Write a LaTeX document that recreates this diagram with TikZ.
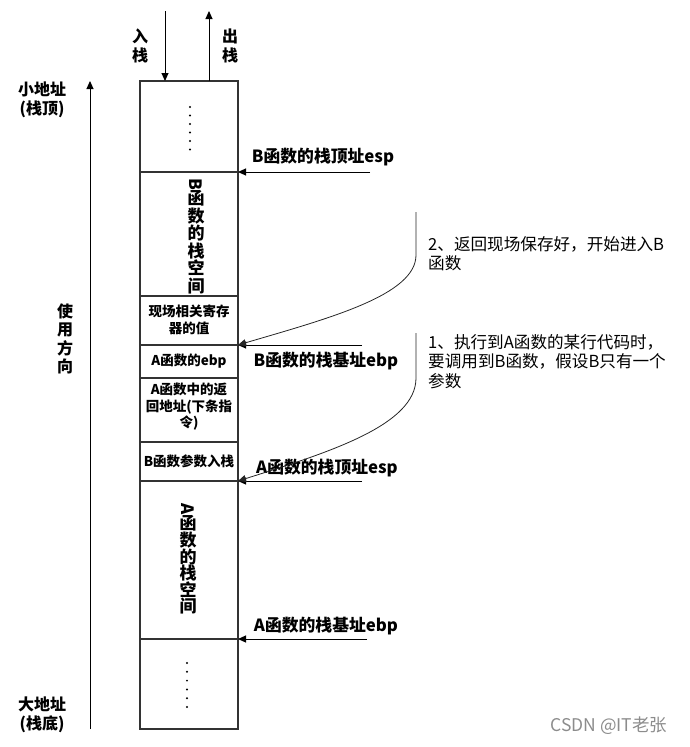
\documentclass[tikz,border=0pt]{standalone}
\usepackage{fontspec}
\newfontfamily\cjk{Noto Sans CJK SC}
\usetikzlibrary{arrows.meta}
\tikzset{
  stackbox/.style={draw=black!80,line width=1.3pt},
  ptr/.style={line width=1pt,-{Triangle[length=8pt,width=7pt]}},
  curved/.style={line width=0.8pt,black!85,-{Triangle[length=8pt,width=7pt]}},
  cell/.style={font=\cjk\bfseries\fontsize{13.5}{16.5}\selectfont,align=center,inner sep=0pt},
  vert/.style={font=\cjk\bfseries\fontsize{17}{17.5}\selectfont,align=center,inner sep=0pt},
  sidelbl/.style={font=\cjk\bfseries\fontsize{16}{18.5}\selectfont,align=center,inner sep=0pt},
  plbl/.style={font=\cjk\bfseries\fontsize{16.8}{19}\selectfont,inner sep=0pt},
  stepnote/.style={font=\cjk\fontsize{16.6}{19.5}\selectfont,align=left,anchor=north west,inner sep=0pt},
  wmark/.style={font=\cjk\fontsize{17.5}{18}\selectfont,text=black!45,inner sep=0pt}
}
\begin{document}
\begin{tikzpicture}[x=1pt,y=-1pt]
\useasboundingbox (0,0) rectangle (689,747);
% ===== stack body =====
\draw[stackbox] (140,81) rectangle (238,729);
\foreach \y in {172,296,345,378,442,481,639}
  \draw[stackbox] (140,\y) -- (238,\y);
\foreach \y in {107,115.5,124,132.5,141,149.5}
  \fill (190,\y) circle (1.1pt);
\foreach \y in {663,671.8,680.6,689.4,698.2,707}
  \fill (187,\y) circle (1.1pt);
\node[vert] (bspace) at (196,236) {\rotatebox{-90}{B}\\函\\数\\的\\栈\\空\\间};
\node[cell] (saved) at (189,320) {现场相关寄存\\器的值};
\node[cell] (aebp) at (189,361) {A函数的ebp};
\node[cell] (ret) at (189,407) {A函数中的返\\回地址(下条指\\令)};
\node[cell] (barg) at (189,461) {B函数参数入栈};
\node[vert,font=\cjk\bfseries\fontsize{17}{16.6}\selectfont] (aspace) at (188,559) {\rotatebox{-90}{A}\\函\\数\\的\\栈\\空\\间};
% ===== push / pop =====
\coordinate (pushTop) at (165,11);
\coordinate (pushEnd) at (165,81);
\coordinate (popTop) at (209,11);
\coordinate (popEnd) at (209,81);
\draw[ptr] (pushTop) -- (pushEnd);
\draw[ptr] (popEnd) -- (popTop);
\node[sidelbl] (push) at (140,46) {入\\栈};
\node[sidelbl] (pop) at (230,46) {出\\栈};
% ===== left side =====
\coordinate (dirLow) at (90,729);
\coordinate (dirTop) at (90,81);
\draw[ptr] (dirLow) -- (dirTop);
\node[sidelbl] (small) at (42,100) {小地址\\(栈顶)};
\node[sidelbl] (usage) at (65,339) {使\\用\\方\\向};
\node[sidelbl] (big) at (42,715) {大地址\\(栈底)};
% ===== pointers =====
\coordinate (bEsp) at (238,172);
\coordinate (bEspT) at (370,172);
\coordinate (bEbp) at (238,345);
\coordinate (bEbpT) at (362,345);
\coordinate (aEsp) at (238,481);
\coordinate (aEspT) at (362,481);
\coordinate (aEbp) at (238,639);
\coordinate (aEbpT) at (367,639);
\draw[ptr] (bEspT) -- (bEsp);
\draw[ptr] (bEbpT) -- (bEbp);
\draw[ptr] (aEspT) -- (aEsp);
\draw[ptr] (aEbpT) -- (aEbp);
\node[plbl] (bEspLbl) at (323,157) {B函数的栈顶址esp};
\node[plbl] (bEbpLbl) at (326,361) {B函数的栈基址ebp};
\node[plbl] (aEspLbl) at (327,468) {A函数的栈顶址esp};
\node[plbl] (aEbpLbl) at (326,626) {A函数的栈基址ebp};
% ===== steps =====
\coordinate (stepTwo) at (416,212);
\coordinate (stepOne) at (416,333);
\draw[curved] (stepTwo) -- (416,255) .. controls (416,295) and (330,318) .. (bEbp);
\draw[curved] (stepOne) -- (416,378) .. controls (416,425) and (330,452) .. (aEsp);
\node[stepnote] (two) at (428,236) {2、返回现场保存好，开始进入B\\函数};
\node[stepnote] (one) at (428,334) {1、执行到A函数的某行代码时，\\要调用到B函数，假设B只有一个\\参数};
\node[wmark] (wm) at (609,726) {CSDN @IT老张};
\end{tikzpicture}
\end{document}
